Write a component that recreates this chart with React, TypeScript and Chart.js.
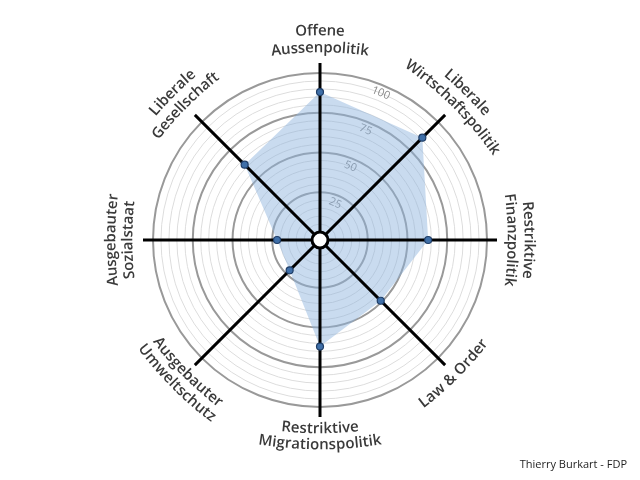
import React, { useEffect, useRef } from "react";
import { Chart, registerables } from "chart.js";
Chart.register(...registerables);

const categories = [
  "Offene Aussenpolitik",
  "Liberale Wirtschaftspolitik",
  "Restriktive Finanzpolitik",
  "Law & Order",
  "Restriktive Migrationspolitik",
  "Ausgebauter Umweltschutz",
  "Ausgebauter Sozialstaat",
  "Liberale Gesellschaft",
];
const labelLines = [
  ["Offene", "Aussenpolitik"],
  ["Liberale", "Wirtschaftspolitik"],
  ["Restriktive", "Finanzpolitik"],
  ["Law & Order"],
  ["Restriktive", "Migrationspolitik"],
  ["Ausgebauter", "Umweltschutz"],
  ["Ausgebauter", "Sozialstaat"],
  ["Liberale", "Gesellschaft"],
];
const values = [88, 86, 63, 49, 62, 22, 22, 62];
const tickLabels = [25, 50, 75, 100];
const footer = "Thierry Burkart - FDP";

const LABEL_FONT = "600 15px 'Open Sans'";
const LABEL_COLOR = "#3a3a3a";

function drawArcText(
  ctx: CanvasRenderingContext2D,
  text: string,
  cx: number,
  cy: number,
  theta: number,
  r: number,
  cw: boolean,
  k: number
) {
  const Rc = r * k;
  const ux = Math.sin(theta);
  const uy = -Math.cos(theta);
  const ox = cx + (r - Rc) * ux;
  const oy = cy + (r - Rc) * uy;
  const total = ctx.measureText(text).width;
  let acc = 0;
  for (const ch of text) {
    const w = ctx.measureText(ch).width;
    const off = (acc + w / 2 - total / 2) / Rc;
    const a = cw ? theta + off : theta - off;
    const x = ox + Rc * Math.sin(a);
    const y = oy - Rc * Math.cos(a);
    ctx.save();
    ctx.translate(x, y);
    ctx.rotate(cw ? a : a - Math.PI);
    ctx.fillText(ch, 0, 0);
    ctx.restore();
    acc += w;
  }
}

const spiderPlugin = {
  id: "spider",
  beforeDatasetsDraw(chart: any) {
    const scale = chart.scales.r;
    const ctx = chart.ctx as CanvasRenderingContext2D;
    const cx = scale.xCenter;
    const cy = scale.yCenter;
    ctx.save();
    ctx.font = "11px 'Open Sans'";
    ctx.fillStyle = "#888888";
    ctx.textAlign = "center";
    ctx.textBaseline = "middle";
    const a = Math.PI / 8;
    for (const t of tickLabels) {
      const d = scale.getDistanceFromCenterForValue(t) - 8;
      ctx.save();
      ctx.translate(cx + d * Math.sin(a), cy - d * Math.cos(a));
      ctx.rotate(a);
      ctx.fillText(String(t), 0, 0);
      ctx.restore();
    }
    ctx.restore();
  },
  beforeDatasetDraw(chart: any, args: any) {
    if (args.index !== 0) return;
    const scale = chart.scales.r;
    const ctx = chart.ctx as CanvasRenderingContext2D;
    const cx = scale.xCenter;
    const cy = scale.yCenter;
    ctx.save();
    ctx.strokeStyle = "#000";
    ctx.lineWidth = 3;
    for (let i = 0; i < categories.length; i++) {
      const p = scale.getPointPosition(i, scale.drawingArea + 10);
      ctx.beginPath();
      ctx.moveTo(cx, cy);
      ctx.lineTo(p.x, p.y);
      ctx.stroke();
    }
    ctx.beginPath();
    ctx.arc(cx, cy, 8, 0, Math.PI * 2);
    ctx.fillStyle = "#fff";
    ctx.fill();
    ctx.lineWidth = 3;
    ctx.stroke();
    ctx.restore();
  },
  afterDraw(chart: any) {
    const scale = chart.scales.r;
    const ctx = chart.ctx as CanvasRenderingContext2D;
    const cx = scale.xCenter;
    const cy = scale.yCenter;
    ctx.save();
    ctx.font = LABEL_FONT;
    ctx.fillStyle = LABEL_COLOR;
    ctx.textAlign = "center";
    ctx.textBaseline = "middle";
    for (let i = 0; i < categories.length; i++) {
      const theta = scale.getIndexAngle(i);
      const deg = (theta * 180) / Math.PI;
      const cw = deg <= 90.01 || deg >= 269.99;
      const lines = labelLines[i];
      if (lines.length === 1) {
        drawArcText(ctx, lines[0], cx, cy, theta, 191, cw, 1.8);
      } else if (cw) {
        drawArcText(ctx, lines[0], cx, cy, theta, 209, cw, 1.8);
        drawArcText(ctx, lines[1], cx, cy, theta, 192, cw, 1.8);
      } else {
        drawArcText(ctx, lines[0], cx, cy, theta, 189, cw, 1.8);
        drawArcText(ctx, lines[1], cx, cy, theta, 205, cw, 1.8);
      }
    }
    ctx.font = "11px 'Open Sans'";
    ctx.fillStyle = "#1e1e1e";
    ctx.textAlign = "right";
    ctx.fillText(footer, 627, 465);
    ctx.restore();
  },
};

export default function App() {
  const ref = useRef<HTMLCanvasElement>(null);
  useEffect(() => {
    const chart = new Chart(ref.current!, {
      type: "radar",
      data: {
        labels: categories,
        datasets: [
          {
            data: values,
            showLine: false,
            fill: false,
            pointRadius: 3.5,
            pointBackgroundColor: "#3f6fa8",
            pointBorderColor: "#1f3d66",
            pointBorderWidth: 1.2,
            borderWidth: 0,
            order: 0,
          },
          {
            data: values,
            fill: true,
            backgroundColor: "rgba(140,178,220,0.47)",
            borderWidth: 0,
            borderColor: "rgba(0,0,0,0)",
            pointRadius: 0,
            order: 1,
          },
        ],
      },
      options: {
        responsive: false,
        animation: false,
        layout: { padding: { top: 73, bottom: 73, left: 0, right: 0 } },
        plugins: { legend: { display: false }, tooltip: { enabled: false } },
        scales: {
          r: {
            min: -5,
            max: 100,
            ticks: { display: false, stepSize: 5 },
            pointLabels: { display: false },
            angleLines: { display: false },
            grid: {
              circular: true,
              color: (c: any) => {
                const v = c.tick ? c.tick.value : 0;
                if (v <= 0) return "rgba(0,0,0,0)";
                return v % 25 === 0 ? "#999999" : "#dddddd";
              },
              lineWidth: (c: any) => {
                const v = c.tick ? c.tick.value : 0;
                return v % 25 === 0 ? 2 : 1;
              },
            },
          },
        },
      },
      plugins: [spiderPlugin],
    } as any);
    return () => chart.destroy();
  }, []);
  return (
    <div style={{ position: "fixed", left: 0, top: 0, width: 640, height: 480, background: "#fff" }}>
      <canvas ref={ref} width={640} height={480} style={{ display: "block" }} />
    </div>
  );
}
